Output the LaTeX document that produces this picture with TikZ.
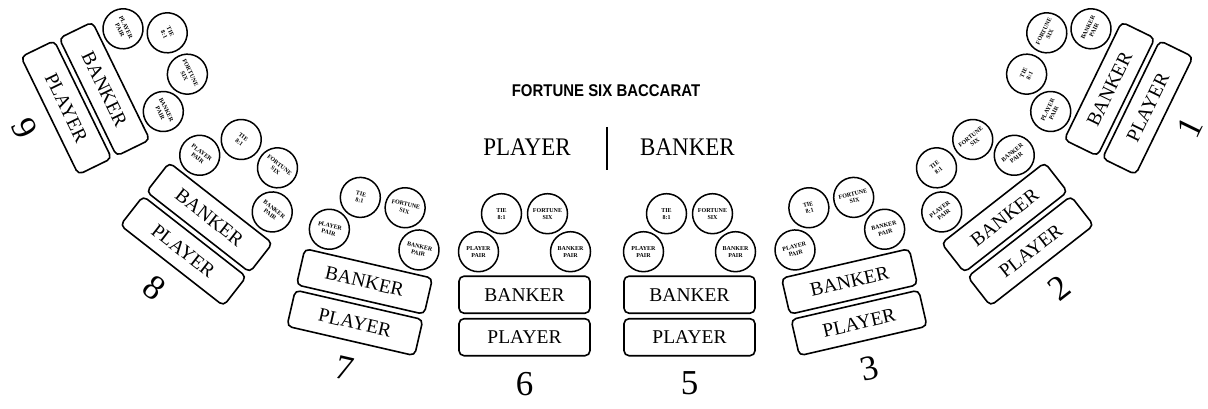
\documentclass[tikz,border=0pt]{standalone}
\usepackage{graphicx}
\usepackage{fontspec}
\setmainfont{Liberation Serif}
\newfontfamily\titlesans{Liberation Sans}
\newcommand\drawseat[5]{%
  \begin{scope}[shift={(#2,-#3)}, rotate=#4]
    \node[betbox] (#1b) at (0,0) {BANKER};
    \node[betbox] (#1p) at (0,-42.5) {PLAYER};
    \node[betspot] (#1pp) at (-46,43) {PLAYER\\PAIR};
    \node[betspot] (#1tie) at (-23,81) {TIE\\8:1};
    \node[betspot] (#1fs) at (23,81) {FORTUNE\\SIX};
    \node[betspot] (#1bp) at (46,43) {BANKER\\PAIR};
    \node[seatnum] (#1n) at (0,-89) {#5};
  \end{scope}}
\begin{document}
\begin{tikzpicture}[x=1pt,y=1pt,
  betbox/.style={draw, line width=1.6pt, rounded corners=5pt, minimum width=131pt,
    minimum height=37pt, inner sep=0pt, font=\fontsize{19.5}{19.5}\selectfont, transform shape},
  betspot/.style={draw, circle, line width=1.5pt, minimum size=40pt, inner sep=0pt,
    align=center, font=\fontsize{6}{6.8}\selectfont\bfseries, transform shape},
  seatnum/.style={inner sep=0pt, font=\fontsize{35}{35}\selectfont, transform shape},
  bigtext/.style={inner sep=0pt, font=\fontsize{23}{23}\selectfont}]
\useasboundingbox (0,0) rectangle (1208,-409);
\fill[white] (0,0) rectangle (1208,-409);

\node[inner sep=0pt, font=\titlesans\bfseries\fontsize{17}{17}\selectfont] (title) at (606,-91)
  {\scalebox{0.88}[1]{FORTUNE SIX BACCARAT}};
\node[bigtext] (hp) at (527,-147.5) {\scalebox{1}[1.1]{PLAYER}};
\node[bigtext] (hb) at (687.5,-147.5) {\scalebox{1}[1.1]{BANKER}};
\coordinate (bartop) at (607,-127);
\coordinate (barbot) at (607,-170);
\draw[line width=1.6pt] (bartop) -- (barbot);

\drawseat{s9}{104.5}{89}{-64}{9}
\drawseat{s8}{209.5}{217.5}{-38}{8}
\drawseat{s7}{364.5}{281.5}{-13}{7}
\drawseat{s6}{524.5}{294.7}{0}{6}
\drawseat{s5}{689.5}{294.7}{0}{5}
\drawseat{s3}{849.5}{281.5}{13}{3}
\drawseat{s2}{1004.5}{217.5}{38}{2}
\drawseat{s1}{1109.5}{89}{64}{1}
\end{tikzpicture}
\end{document}
